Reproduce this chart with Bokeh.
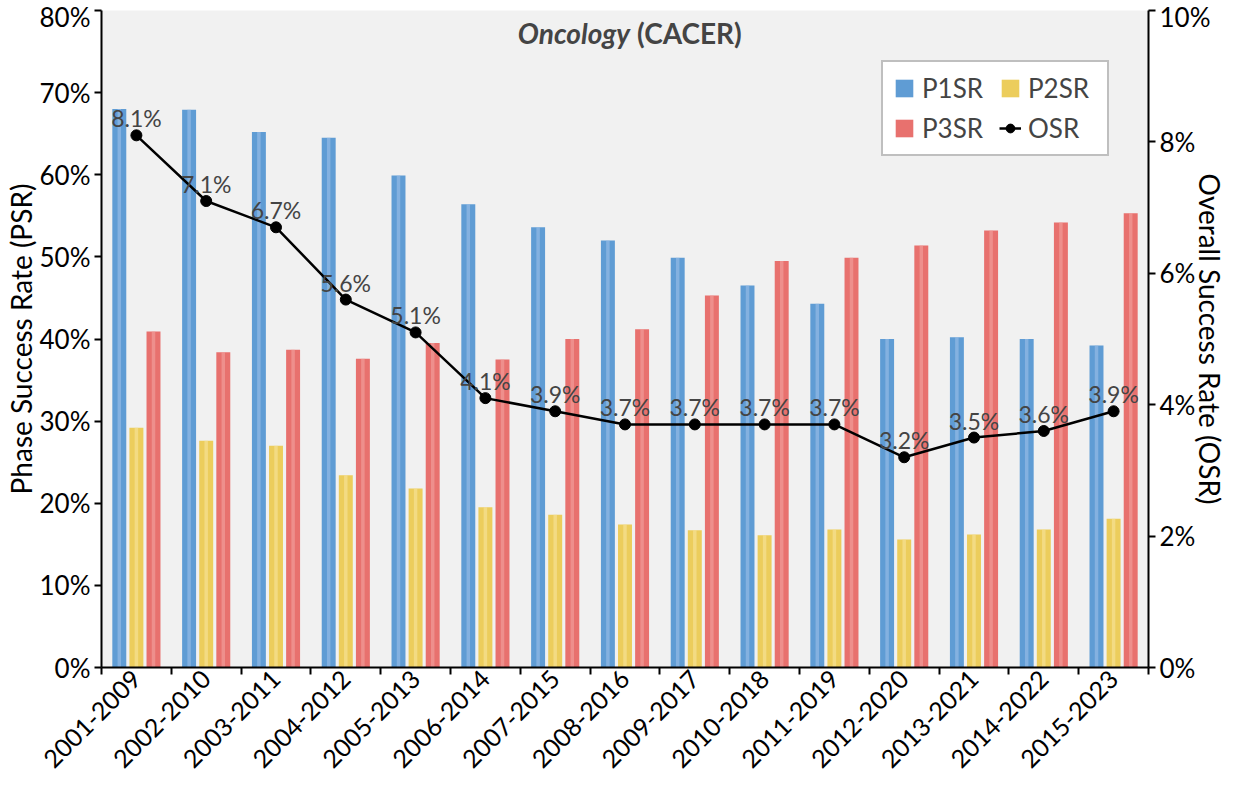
import math
from bokeh.plotting import figure
from bokeh.models import (ColumnDataSource, Range1d, LinearAxis, FixedTicker,
                          PrintfTickFormatter, Legend, LegendItem, LabelSet, Label)
from bokeh.core.properties import value
from bokeh.transform import dodge
from bokeh.embed import file_html
from bokeh.resources import INLINE

periods = ["2001-2009", "2002-2010", "2003-2011", "2004-2012", "2005-2013",
           "2006-2014", "2007-2015", "2008-2016", "2009-2017", "2010-2018",
           "2011-2019", "2012-2020", "2013-2021", "2014-2022", "2015-2023"]
p1sr = [68.0, 67.9, 65.2, 64.5, 59.9, 56.4, 53.6, 52.0, 49.9, 46.5, 44.3, 40.0, 40.2, 40.0, 39.2]
p2sr = [29.2, 27.6, 27.0, 23.4, 21.8, 19.5, 18.6, 17.4, 16.7, 16.1, 16.8, 15.6, 16.2, 16.8, 18.1]
p3sr = [40.9, 38.4, 38.7, 37.6, 39.5, 37.5, 40.0, 41.2, 45.3, 49.5, 49.9, 51.4, 53.2, 54.2, 55.3]
osr = [8.1, 7.1, 6.7, 5.6, 5.1, 4.1, 3.9, 3.7, 3.7, 3.7, 3.7, 3.2, 3.5, 3.6, 3.9]
left_ticks = [0, 10, 20, 30, 40, 50, 60, 70, 80]
right_ticks = [0, 2, 4, 6, 8, 10]

FONT = "Lato"
n = len(periods)
centers = [i + 0.5 for i in range(n)]
bounds = list(range(n + 1))

src = ColumnDataSource(dict(x=centers, p1=p1sr, p2=p2sr, p3=p3sr, osr=osr,
                            lab=[f"{v:.1f}%" for v in osr]))

p = figure(width=1231, height=778, output_backend="svg", toolbar_location=None,
           x_range=Range1d(0, n), y_range=Range1d(0, 80),
           min_border_left=95, min_border_right=83, min_border_top=10, min_border_bottom=100)
p.extra_y_ranges = {"osr": Range1d(0, 10)}
p.xgrid.visible = False
p.ygrid.visible = False
p.outline_line_color = None
p.background_fill_color = "#f1f1f1"
p.border_fill_color = "white"
p.xaxis.visible = False
p.yaxis.visible = False

W = 0.2
OFF = 0.245
b1 = p.vbar(x=dodge("x", -OFF), top="p1", width=W, source=src, fill_color="#5f9cd4", line_color=None)
b2 = p.vbar(x=dodge("x", 0.0), top="p2", width=W, source=src, fill_color="#eccd5c", line_color=None)
b3 = p.vbar(x=dodge("x", OFF), top="p3", width=W, source=src, fill_color="#e8716e", line_color=None)
# highlight stripes (cylinder look)
p.vbar(x=dodge("x", -OFF), top="p1", width=0.05, source=src, fill_color="#9dbfe8", fill_alpha=0.6, line_color=None)
p.vbar(x=dodge("x", 0.0), top="p2", width=0.05, source=src, fill_color="#f8e59c", fill_alpha=0.6, line_color=None)
p.vbar(x=dodge("x", OFF), top="p3", width=0.05, source=src, fill_color="#f2a3a0", fill_alpha=0.6, line_color=None)

ln = p.line(x="x", y="osr", source=src, y_range_name="osr", line_color="black", line_width=2.5)
pts = p.scatter(x="x", y="osr", source=src, y_range_name="osr", size=11,
                fill_color="black", line_color="black")

labels = LabelSet(x="x", y="osr", text="lab", source=src, y_range_name="osr",
                  text_align="center", text_baseline="bottom", y_offset=3,
                  text_font=value(FONT), text_font_size="23px", text_color="#444444")
p.add_layout(labels)

def style_axis(ax):
    ax.axis_line_color = "black"
    ax.axis_line_width = 2
    ax.major_tick_line_color = "black"
    ax.major_tick_line_width = 2
    ax.major_tick_out = 7
    ax.major_tick_in = 0
    ax.minor_tick_line_color = "black"
    ax.minor_tick_line_width = 2
    ax.minor_tick_out = 7
    ax.minor_tick_in = 0
    ax.major_label_text_font = FONT
    ax.major_label_text_font_size = "26px"
    ax.major_label_text_color = "black"
    ax.axis_label_text_font = FONT
    ax.axis_label_text_font_size = "28px"
    ax.axis_label_text_font_style = "normal"
    ax.axis_label_text_color = "black"

xax = LinearAxis(ticker=FixedTicker(ticks=centers, minor_ticks=bounds),
                 major_label_overrides={c: lbl for c, lbl in zip(centers, periods)},
                 major_label_orientation=math.pi / 4)
style_axis(xax)
xax.major_tick_out = 0
xax.major_tick_line_color = None
xax.major_label_standoff = 0
xax.major_label_text_font_size = "25px"
p.add_layout(xax, "below")

yl = LinearAxis(ticker=FixedTicker(ticks=left_ticks, minor_ticks=[]),
                formatter=PrintfTickFormatter(format="%d%%"),
                axis_label="Phase Success Rate (PSR)")
style_axis(yl)
yl.major_label_standoff = 4
yl.axis_label_standoff = -1
p.add_layout(yl, "left")

yr = LinearAxis(y_range_name="osr", ticker=FixedTicker(ticks=right_ticks, minor_ticks=[]),
                formatter=PrintfTickFormatter(format="%d%%"),
                axis_label="Overall Success Rate (OSR)")
style_axis(yr)
yr.major_label_standoff = 4
yr.axis_label_standoff = -20
p.add_layout(yr, "right")

legend = Legend(items=[LegendItem(label="P1SR", renderers=[b1]),
                       LegendItem(label="P3SR", renderers=[b3]),
                       LegendItem(label="P2SR", renderers=[b2]),
                       LegendItem(label="OSR", renderers=[ln, pts])],
                ncols=2, location=(780, 511),
                label_text_font=FONT, label_text_font_size="26px",
                glyph_width=22, glyph_height=22, spacing=8, padding=10,
                label_standoff=7, label_width=69,
                border_line_color="#7f7f7f", border_line_width=2,
                background_fill_color="white", background_fill_alpha=1.0,
                margin=0)
p.add_layout(legend)

t1 = Label(x=n / 2, y=77.3, text="Oncology", text_align="right", text_baseline="middle",
           x_offset=5, text_font=FONT, text_font_size="28px",
           text_font_style="bold italic")
t2 = Label(x=n / 2, y=77.3, text="(CACER)", text_align="left", text_baseline="middle",
           x_offset=12, text_font=FONT, text_font_size="28px",
           text_font_style="bold")
p.add_layout(t1)
p.add_layout(t2)

open("out.html", "w").write(file_html(p, INLINE))
